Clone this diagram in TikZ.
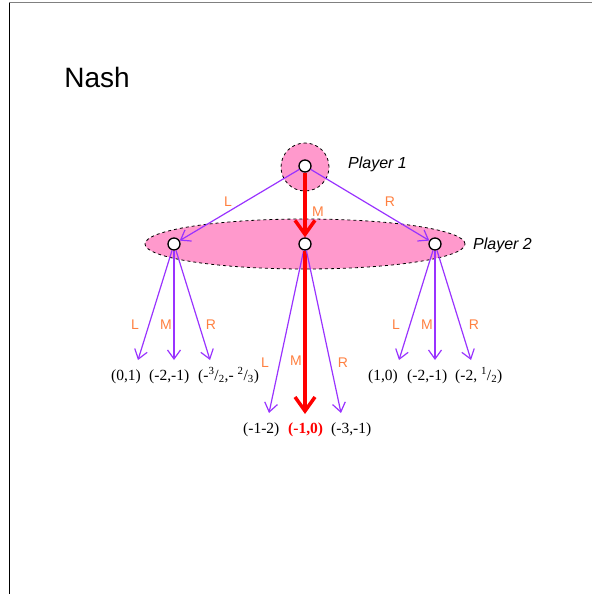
\documentclass[tikz,border=0pt]{standalone}
\usepackage{fontspec}
\setmainfont{Liberation Serif}
\setsansfont{Liberation Sans}
\usetikzlibrary{arrows.meta,positioning,shapes.geometric}
\definecolor{pinkc}{HTML}{FF99CC}
\definecolor{purc}{HTML}{9933FF}
\definecolor{labc}{HTML}{FF8040}
\definecolor{redc}{HTML}{FF0000}
\tikzset{
  mv/.style={-{Straight Barb[length=9pt,width=13pt]},line width=1.2pt,purc},
  eq/.style={-{Straight Barb[length=14pt,width=20pt,line width=3.5pt]},line width=3.5pt,redc},
  dn/.style={circle,draw=black,line width=1.3pt,fill=white,minimum size=12pt,inner sep=0pt},
  infs/.style={draw=black,dashed,line width=0.8pt,fill=pinkc},
  lb/.style={font=\sffamily\fontsize{14}{15}\selectfont,text=labc,inner sep=0pt},
  pl/.style={font=\sffamily\itshape\fontsize{16}{17}\selectfont,inner sep=0pt,anchor=west},
  pay/.style={font=\fontsize{15.5}{16}\selectfont,inner sep=0pt,anchor=base west}
}
\begin{document}
\begin{tikzpicture}[x=1pt,y=-1pt]
\useasboundingbox (0,0) rectangle (592,594);
% frame
\draw[gray,line width=1pt] (9,3)--(592,3);
\draw[black,line width=1pt] (9,3)--(9,594);
\node[font=\sffamily\fontsize{28}{30}\selectfont,inner sep=0pt] (title) at (97,77) {Nash};
% information sets
\node[infs,circle,minimum size=48pt] (set1) at (305,167) {};
\node[infs,ellipse,minimum width=320pt,minimum height=50pt,inner sep=0pt] (set2) at (305,244) {};
\node[pl] (p1lab) at (348,164) {Player 1};
\node[pl] (p2lab) at (473,245) {Player 2};
% decision nodes
\node[dn] (n1) at (305,166) {};
\node[dn] (nl) at (174,244) {};
\node[dn] (nm) at (305,244) {};
\node[dn] (nr) at (435,244) {};
% first move
\draw[mv] (n1)--(nl);
\draw[mv] (n1)--(nr);
\draw[eq] (n1)--(nm);
\node[lb] at (228,202) {L};
\node[lb] at (318,212) {M};
\node[lb] at (390,202) {R};
% end points
\coordinate (ll) at (138,360); \coordinate (lm) at (174,360); \coordinate (lr) at (210,360);
\coordinate (ml) at (269,413); \coordinate (mm) at (305,414); \coordinate (mr) at (341,413);
\coordinate (rl) at (399,360); \coordinate (rm) at (435,360); \coordinate (rr) at (471,360);
% second move
\draw[mv] (nl)--(ll); \draw[mv] (nl)--(lm); \draw[mv] (nl)--(lr);
\draw[mv] (nm)--(ml); \draw[eq] (nm)--(mm); \draw[mv] (nm)--(mr);
\draw[mv] (nr)--(rl); \draw[mv] (nr)--(rm); \draw[mv] (nr)--(rr);
\node[lb] at (135,325) {L}; \node[lb] at (166,325) {M}; \node[lb] at (211,325) {R};
\node[lb] at (265,363) {L}; \node[lb] at (296,361) {M}; \node[lb] at (343,363) {R};
\node[lb] at (396,325) {L}; \node[lb] at (427,325) {M}; \node[lb] at (474,325) {R};
% payoffs
\node[pay] (ul) at (111,380) {(0,1)};
\node[pay] (um) at (149,380) {(-2,-1)};
\node[pay] (ur) at (198,380) {(-\textsuperscript{3}/\textsubscript{2},- \textsuperscript{2}/\textsubscript{3})};
\node[pay] (vl) at (243,433) {(-1-2)};
\node[pay,text=redc,font=\bfseries\fontsize{15.5}{16}\selectfont] (vm) at (288,433) {(-1,0)};
\node[pay] (vr) at (331,433) {(-3,-1)};
\node[pay] (wl) at (368,380) {(1,0)};
\node[pay] (wm) at (407,380) {(-2,-1)};
\node[pay] (wr) at (455,380) {(-2, \textsuperscript{1}/\textsubscript{2})};
\end{tikzpicture}
\end{document}
